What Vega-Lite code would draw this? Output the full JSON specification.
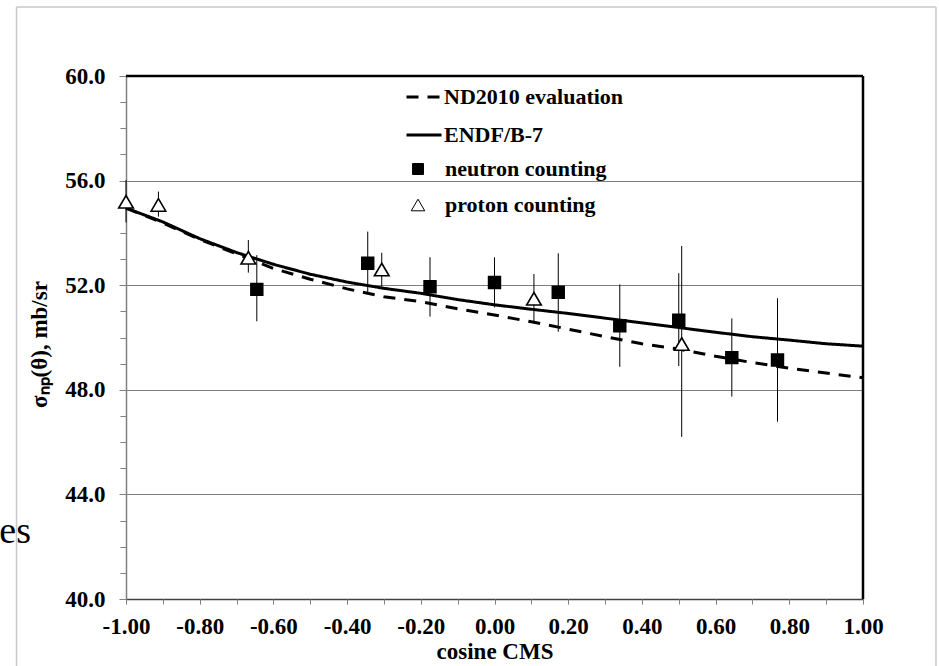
{
  "$schema": "https://vega.github.io/schema/vega-lite/v6.json",
  "width": 737,
  "height": 523,
  "autosize": {"type": "none"},
  "padding": {"left": 126, "top": 76, "right": 76, "bottom": 67},
  "background": "white",
  "config": {
    "locale": {"number": {"decimal": ".", "thousands": ",", "grouping": [3], "currency": ["$", ""], "minus": "-"}},
    "view": {"stroke": null},
    "font": "Liberation Serif",
    "legend": {"labelFont": "Liberation Serif", "labelFontWeight": "bold", "labelFontSize": 22, "labelColor": "black", "padding": 0, "labelLimit": 400}
  },
  "datasets": {
    "curves": [
      {"series": "ND2010 evaluation", "x": -1.0, "y": 54.95},
      {"series": "ND2010 evaluation", "x": -0.9, "y": 54.38},
      {"series": "ND2010 evaluation", "x": -0.8, "y": 53.75},
      {"series": "ND2010 evaluation", "x": -0.7, "y": 53.2},
      {"series": "ND2010 evaluation", "x": -0.6, "y": 52.64},
      {"series": "ND2010 evaluation", "x": -0.5, "y": 52.23},
      {"series": "ND2010 evaluation", "x": -0.4, "y": 51.86},
      {"series": "ND2010 evaluation", "x": -0.3, "y": 51.56},
      {"series": "ND2010 evaluation", "x": -0.2, "y": 51.37},
      {"series": "ND2010 evaluation", "x": -0.1, "y": 51.1},
      {"series": "ND2010 evaluation", "x": 0.0, "y": 50.86},
      {"series": "ND2010 evaluation", "x": 0.1, "y": 50.6},
      {"series": "ND2010 evaluation", "x": 0.2, "y": 50.32},
      {"series": "ND2010 evaluation", "x": 0.3, "y": 50.03},
      {"series": "ND2010 evaluation", "x": 0.4, "y": 49.76},
      {"series": "ND2010 evaluation", "x": 0.5, "y": 49.56},
      {"series": "ND2010 evaluation", "x": 0.6, "y": 49.28},
      {"series": "ND2010 evaluation", "x": 0.7, "y": 49.04},
      {"series": "ND2010 evaluation", "x": 0.8, "y": 48.83},
      {"series": "ND2010 evaluation", "x": 0.9, "y": 48.64},
      {"series": "ND2010 evaluation", "x": 1.0, "y": 48.46},
      {"series": "ENDF/B-7", "x": -1.0, "y": 54.95},
      {"series": "ENDF/B-7", "x": -0.9, "y": 54.42},
      {"series": "ENDF/B-7", "x": -0.8, "y": 53.78},
      {"series": "ENDF/B-7", "x": -0.7, "y": 53.25},
      {"series": "ENDF/B-7", "x": -0.6, "y": 52.8},
      {"series": "ENDF/B-7", "x": -0.5, "y": 52.42},
      {"series": "ENDF/B-7", "x": -0.4, "y": 52.12},
      {"series": "ENDF/B-7", "x": -0.3, "y": 51.88},
      {"series": "ENDF/B-7", "x": -0.2, "y": 51.69},
      {"series": "ENDF/B-7", "x": -0.1, "y": 51.45},
      {"series": "ENDF/B-7", "x": 0.0, "y": 51.25},
      {"series": "ENDF/B-7", "x": 0.1, "y": 51.08},
      {"series": "ENDF/B-7", "x": 0.2, "y": 50.92},
      {"series": "ENDF/B-7", "x": 0.3, "y": 50.74},
      {"series": "ENDF/B-7", "x": 0.4, "y": 50.56},
      {"series": "ENDF/B-7", "x": 0.5, "y": 50.38},
      {"series": "ENDF/B-7", "x": 0.6, "y": 50.2},
      {"series": "ENDF/B-7", "x": 0.7, "y": 50.03},
      {"series": "ENDF/B-7", "x": 0.8, "y": 49.9},
      {"series": "ENDF/B-7", "x": 0.9, "y": 49.76},
      {"series": "ENDF/B-7", "x": 1.0, "y": 49.67}
    ],
    "points": [
      {"series": "neutron counting", "x": -0.645, "y": 51.84, "lo": 50.62, "hi": 53.15},
      {"series": "neutron counting", "x": -0.344, "y": 52.84, "lo": 51.69, "hi": 54.05},
      {"series": "neutron counting", "x": -0.175, "y": 51.94, "lo": 50.8, "hi": 53.07},
      {"series": "neutron counting", "x": 0.0, "y": 52.1, "lo": 51.15, "hi": 53.07},
      {"series": "neutron counting", "x": 0.173, "y": 51.73, "lo": 50.22, "hi": 53.22},
      {"series": "neutron counting", "x": 0.34, "y": 50.45, "lo": 48.88, "hi": 52.03},
      {"series": "neutron counting", "x": 0.5, "y": 50.66, "lo": 48.91, "hi": 52.46},
      {"series": "neutron counting", "x": 0.644, "y": 49.23, "lo": 47.74, "hi": 50.73},
      {"series": "neutron counting", "x": 0.768, "y": 49.14, "lo": 46.78, "hi": 51.5},
      {"series": "proton counting", "x": -1.0, "y": 55.19, "lo": 54.4, "hi": 56.02},
      {"series": "proton counting", "x": -0.912, "y": 55.07, "lo": 54.62, "hi": 55.58},
      {"series": "proton counting", "x": -0.668, "y": 53.05, "lo": 52.48, "hi": 53.73},
      {"series": "proton counting", "x": -0.306, "y": 52.6, "lo": 51.94, "hi": 53.24},
      {"series": "proton counting", "x": 0.107, "y": 51.48, "lo": 50.58, "hi": 52.43},
      {"series": "proton counting", "x": 0.508, "y": 49.75, "lo": 46.2, "hi": 53.5}
    ]
  },
  "resolve": {"axis": {"x": "independent", "y": "independent"}},
  "layer": [
    {
      "data": {"name": "curves"},
      "mark": {"type": "point", "opacity": 0},
      "encoding": {
        "x": {"field": "x", "type": "quantitative", "scale": {"domain": [-1, 1], "nice": false, "zero": false},
          "axis": {"orient": "bottom", "values": [-1, -0.8, -0.6, -0.4, -0.2, 0, 0.2, 0.4, 0.6, 0.8, 1], "format": ".2f", "grid": false,
            "domainColor": "#404040", "domainWidth": 1.5, "tickColor": "#808080", "tickSize": 5, "tickWidth": 1,
            "labelFont": "Liberation Serif", "labelFontWeight": "bold", "labelFontSize": 23, "labelColor": "black", "labelPadding": 11, "labelFlush": false, "labelOverlap": false,
            "title": "cosine CMS", "titleFont": "Liberation Serif", "titleFontWeight": "bold", "titleFontSize": 23, "titleColor": "black", "titlePadding": 2}},
        "y": {"field": "y", "type": "quantitative", "scale": {"domain": [40, 60], "nice": false, "zero": false},
          "axis": {"orient": "left", "values": [40, 44, 48, 52, 56, 60], "format": ".1f", "grid": true, "gridColor": "#7f7f7f", "gridWidth": 1.2,
            "domainColor": "#808080", "domainWidth": 1.5, "tickColor": "#808080", "tickSize": 7, "tickWidth": 1,
            "labelFont": "Liberation Serif", "labelFontWeight": "bold", "labelFontSize": 23, "labelColor": "black", "labelPadding": 14, "labelOverlap": false,
            "title": "σₙₚ(θ), mb/sr", "titleFont": "Liberation Serif", "titleFontWeight": "bold", "titleFontSize": 23, "titleColor": "black", "titlePadding": 13, "titleY": 268}}
      }
    },
    {
      "data": {"name": "curves"},
      "mark": {"type": "point", "opacity": 0},
      "encoding": {
        "x": {"field": "x", "type": "quantitative", "scale": {"domain": [-1, 1], "nice": false, "zero": false},
          "axis": {"orient": "bottom", "values": [-1, -0.9, -0.8, -0.7, -0.6, -0.5, -0.4, -0.3, -0.2, -0.1, 0, 0.1, 0.2, 0.3, 0.4, 0.5, 0.6, 0.7, 0.8, 0.9, 1],
            "labels": false, "domain": false, "grid": false, "tickColor": "#808080", "tickSize": 5, "tickWidth": 1, "title": null}},
        "y": {"field": "y", "type": "quantitative", "scale": {"domain": [40, 60], "nice": false, "zero": false},
          "axis": {"orient": "left", "values": [40, 41, 42, 43, 44, 45, 46, 47, 48, 49, 50, 51, 52, 53, 54, 55, 56, 57, 58, 59, 60],
            "labels": false, "domain": false, "grid": false, "tickColor": "#808080", "tickSize": 6, "tickWidth": 1, "title": null}}
      }
    },
    {
      "data": {"values": [{}]},
      "mark": {"type": "rule", "color": "#c8c8c8", "strokeWidth": 1.5},
      "encoding": {
        "x": {"datum": -1.2971, "type": "quantitative", "scale": {"domain": [-1, 1], "nice": false, "zero": false}, "axis": null},
        "y": {"datum": 62.64, "type": "quantitative", "scale": {"domain": [40, 60], "nice": false, "zero": false}, "axis": null},
        "y2": {"datum": 37.4}
      }
    },
    {
      "data": {"values": [{}]},
      "mark": {"type": "rule", "color": "#c8c8c8", "strokeWidth": 1.5},
      "encoding": {
        "x": {"datum": 1.198, "type": "quantitative", "scale": {"domain": [-1, 1], "nice": false, "zero": false}, "axis": null},
        "y": {"datum": 62.64, "type": "quantitative", "scale": {"domain": [40, 60], "nice": false, "zero": false}, "axis": null},
        "y2": {"datum": 37.4}
      }
    },
    {
      "data": {"values": [{}]},
      "mark": {"type": "rule", "color": "#c8c8c8", "strokeWidth": 1.5},
      "encoding": {
        "x": {"datum": -1.2971, "type": "quantitative", "scale": {"domain": [-1, 1], "nice": false, "zero": false}, "axis": null},
        "x2": {"datum": 1.198},
        "y": {"datum": 62.64, "type": "quantitative", "scale": {"domain": [40, 60], "nice": false, "zero": false}, "axis": null}
      }
    },
    {
      "data": {"values": [{}]},
      "mark": {"type": "rule", "color": "black", "strokeWidth": 2.5},
      "encoding": {
        "x": {"datum": -1, "type": "quantitative", "scale": {"domain": [-1, 1], "nice": false, "zero": false}, "axis": null},
        "x2": {"datum": 1},
        "y": {"datum": 60, "type": "quantitative", "scale": {"domain": [40, 60], "nice": false, "zero": false}, "axis": null}
      }
    },
    {
      "data": {"values": [{}]},
      "mark": {"type": "rule", "color": "black", "strokeWidth": 2.5},
      "encoding": {
        "x": {"datum": 1, "type": "quantitative", "scale": {"domain": [-1, 1], "nice": false, "zero": false}, "axis": null},
        "y": {"datum": 40, "type": "quantitative", "scale": {"domain": [40, 60], "nice": false, "zero": false}, "axis": null},
        "y2": {"datum": 60}
      }
    },
    {
      "data": {"name": "curves"},
      "mark": {"type": "line", "color": "black", "strokeWidth": 3},
      "encoding": {
        "x": {"field": "x", "type": "quantitative", "scale": {"domain": [-1, 1], "nice": false, "zero": false}, "axis": null},
        "y": {"field": "y", "type": "quantitative", "scale": {"domain": [40, 60], "nice": false, "zero": false}, "axis": null},
        "strokeDash": {"field": "series", "type": "nominal",
          "scale": {"domain": ["ND2010 evaluation", "ENDF/B-7"], "range": [[12, 9], [1, 0]]},
          "legend": {"orient": "none", "legendX": 279, "legendY": 2, "title": null, "symbolType": "stroke", "symbolSize": 1225, "symbolStrokeWidth": 3, "symbolStrokeColor": "black", "labelOffset": 1, "rowPadding": 8}}
      }
    },
    {
      "data": {"name": "points"},
      "mark": {"type": "rule", "color": "black", "strokeWidth": 1},
      "encoding": {
        "x": {"field": "x", "type": "quantitative", "scale": {"domain": [-1, 1], "nice": false, "zero": false}, "axis": null},
        "y": {"field": "lo", "type": "quantitative", "scale": {"domain": [40, 60], "nice": false, "zero": false}, "axis": null},
        "y2": {"field": "hi"}
      }
    },
    {
      "data": {"name": "points"},
      "mark": {"type": "point", "strokeWidth": 1.6, "opacity": 1, "fillOpacity": 1, "strokeOpacity": 1, "size": 140},
      "encoding": {
        "x": {"field": "x", "type": "quantitative", "scale": {"domain": [-1, 1], "nice": false, "zero": false}, "axis": null},
        "y": {"field": "y", "type": "quantitative", "scale": {"domain": [40, 60], "nice": false, "zero": false}, "axis": null},
        "shape": {"field": "series", "type": "nominal",
          "scale": {"domain": ["neutron counting", "proton counting"], "range": ["square", "M0,-1.06L1.24,1.06L-1.24,1.06Z"]},
          "legend": {"orient": "none", "legendX": 281, "legendY": 82, "title": null, "symbolSize": 120, "symbolStrokeWidth": 1, "labelOffset": 16, "rowPadding": 14}},
        "fill": {"field": "series", "type": "nominal",
          "scale": {"domain": ["neutron counting", "proton counting"], "range": ["black", "white"]},
          "legend": {"orient": "none", "legendX": 281, "legendY": 82, "title": null, "symbolSize": 120, "symbolStrokeWidth": 1, "labelOffset": 16, "rowPadding": 14}},
        "stroke": {"field": "series", "type": "nominal",
          "scale": {"domain": ["neutron counting", "proton counting"], "range": ["black", "black"]},
          "legend": {"orient": "none", "legendX": 281, "legendY": 82, "title": null, "symbolSize": 120, "symbolStrokeWidth": 1, "labelOffset": 16, "rowPadding": 14}}
      }
    },
    {
      "data": {"values": [{"label": "es"}]},
      "mark": {"type": "text", "font": "Liberation Serif", "fontSize": 38, "align": "right", "baseline": "alphabetic", "color": "black"},
      "encoding": {
        "x": {"datum": -1.2578, "type": "quantitative", "scale": {"domain": [-1, 1], "nice": false, "zero": false}, "axis": null},
        "y": {"datum": 42.14, "type": "quantitative", "scale": {"domain": [40, 60], "nice": false, "zero": false}, "axis": null},
        "text": {"field": "label"}
      }
    }
  ]
}
